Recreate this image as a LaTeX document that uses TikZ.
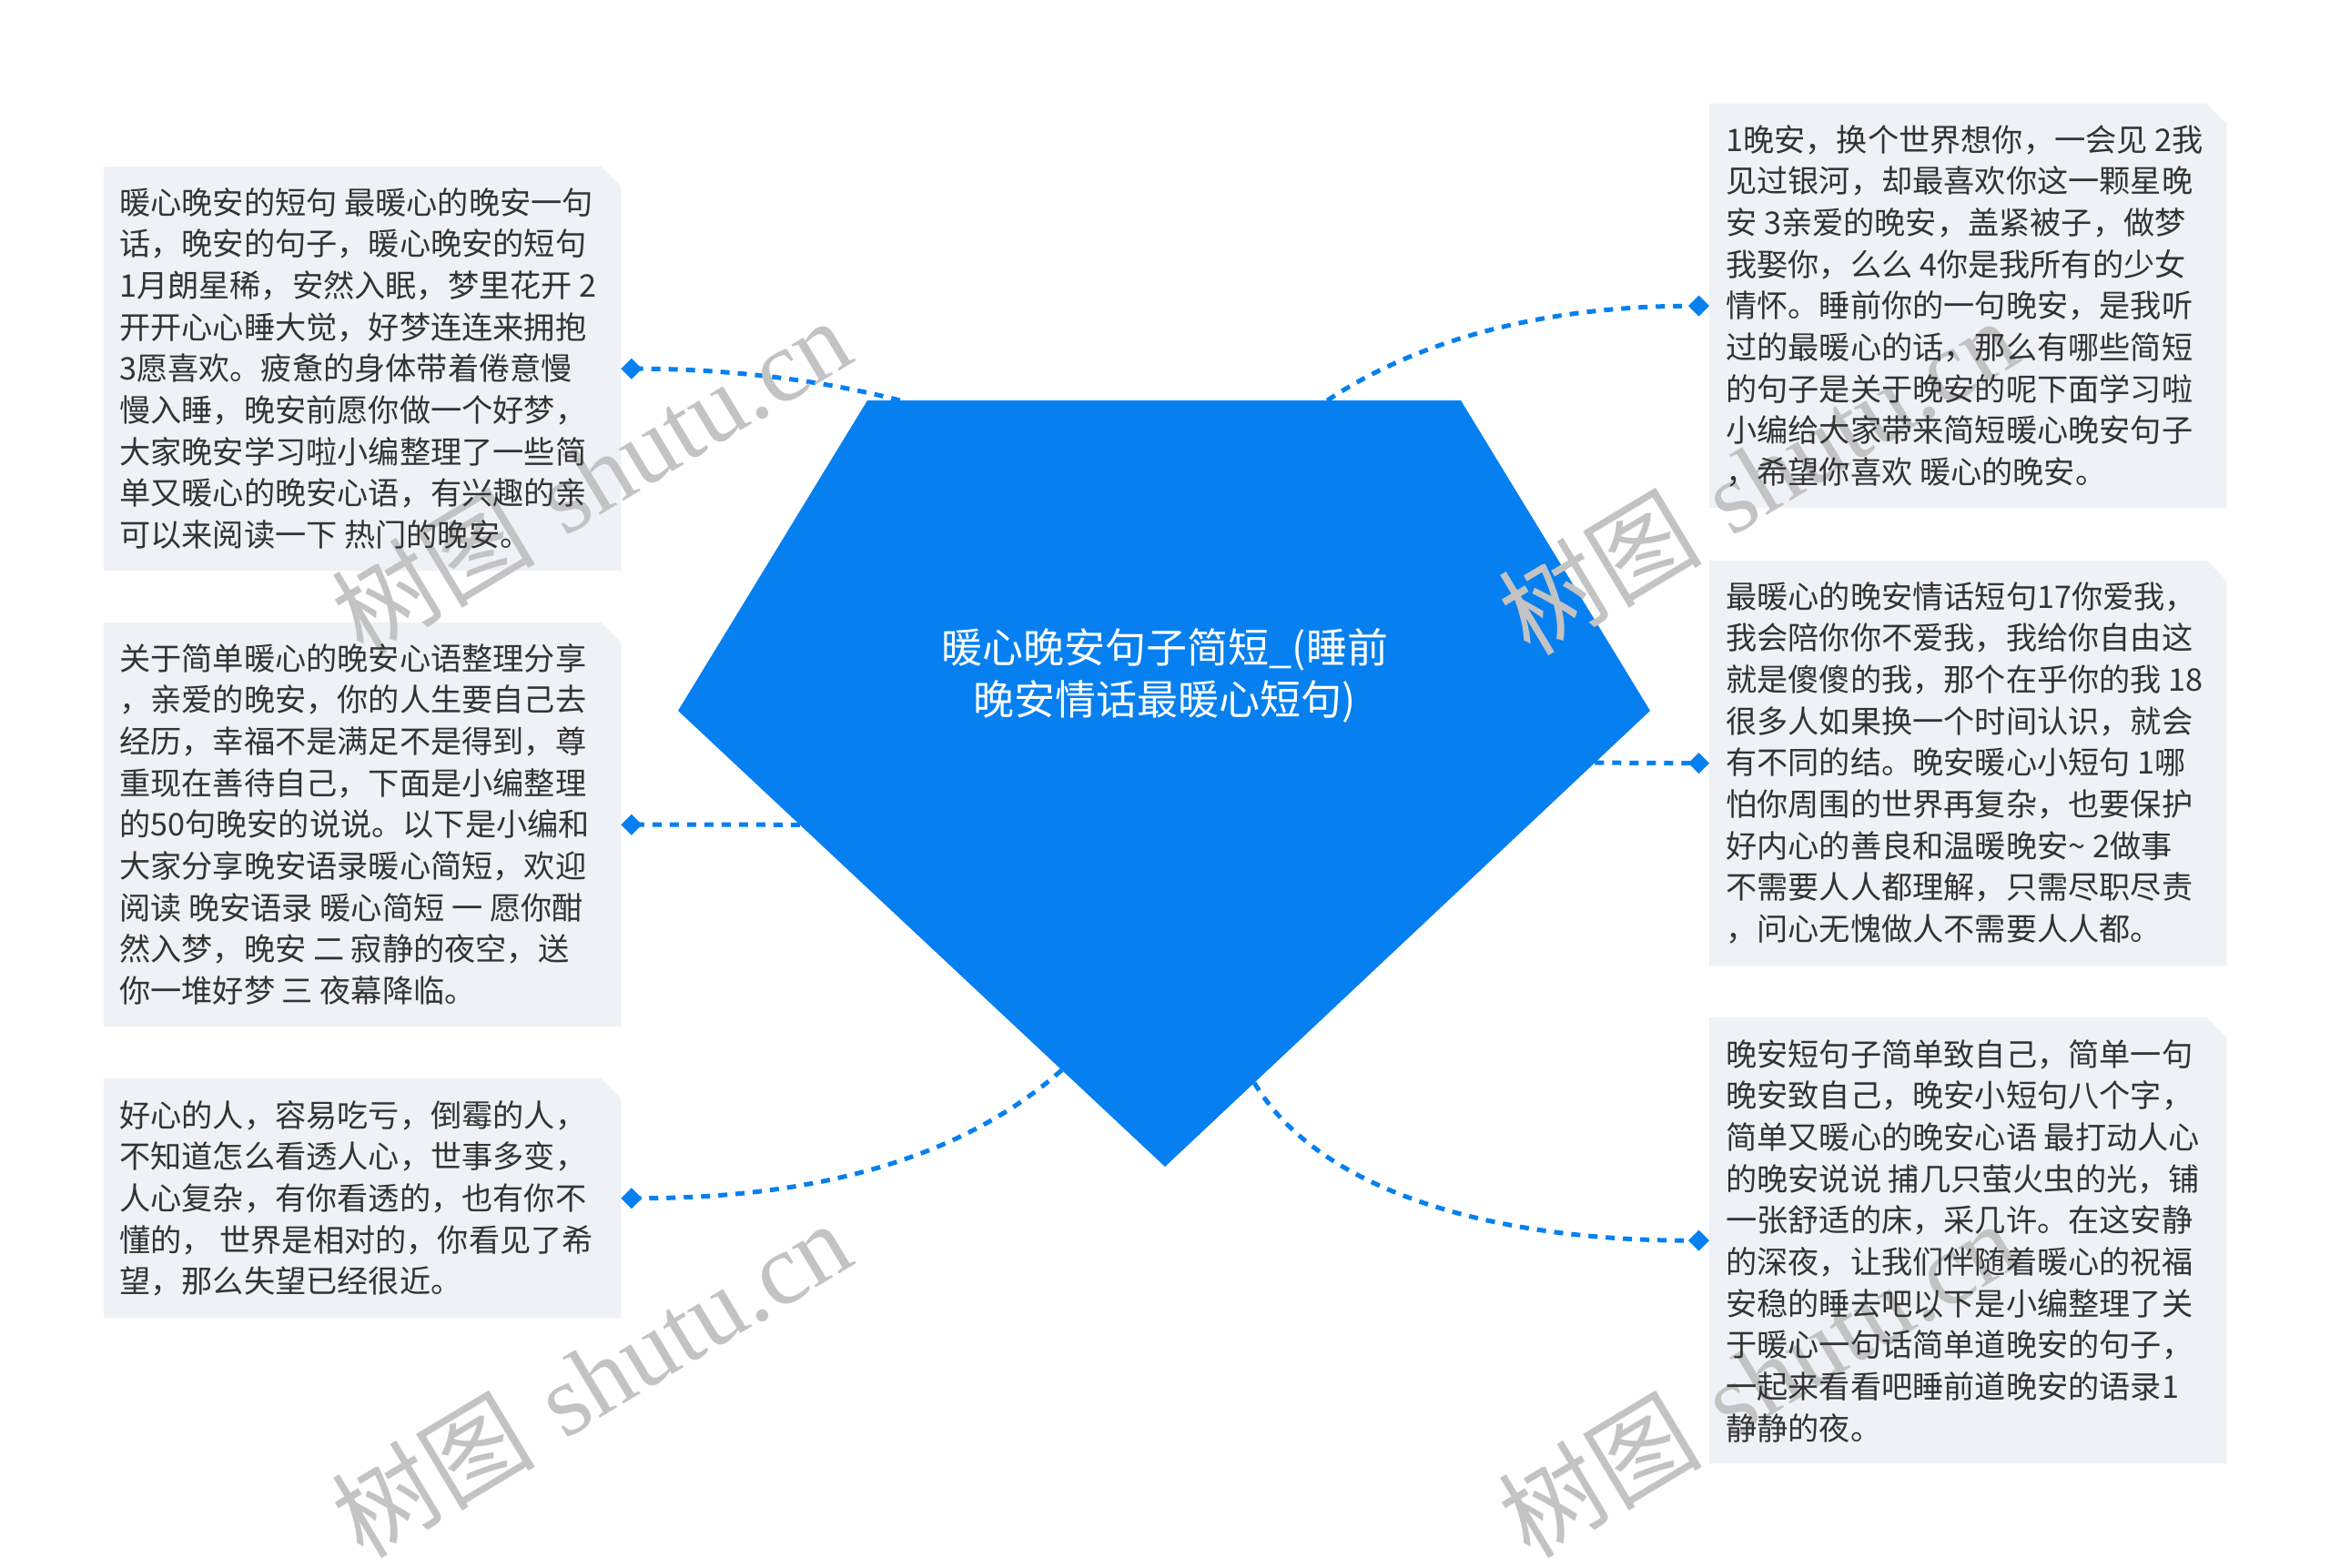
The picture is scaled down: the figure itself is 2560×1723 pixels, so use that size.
\documentclass[tikz,border=0pt]{standalone}
\usepackage{fontspec}
\newfontfamily\cjk{Noto Sans CJK SC}
\newfontfamily\wmlat{Liberation Serif}
\usetikzlibrary{arrows.meta,calc}
\definecolor{mainblue}{RGB}{6,128,240}
\definecolor{boxfill}{RGB}{238,241,245}
\definecolor{txtcol}{RGB}{51,51,51}
\definecolor{wmcol}{RGB}{195,195,195}
\tikzset{
  boxframe/.style={rectangle, draw=none, inner sep=0pt, minimum width=568pt, anchor=north west},
  boxtext/.style={anchor=base west, inner sep=0pt, align=left, text=txtcol, font=\cjk\fontsize{34.2}{45.7}\selectfont},
  linkline/.style={draw=mainblue, line width=5pt, dash pattern=on 10pt off 9pt, -{Diamond[length=23pt,width=23pt]}},
  wmark/.style={text=wmcol, rotate=31, inner sep=0pt, font=\fontsize{112}{112}\selectfont},
}
\begin{document}
\begin{tikzpicture}[x=1pt,y=-1pt]
\fill[white] (0,0) rectangle (2560,1723);
\useasboundingbox (0,0) rectangle (2560,1723);

% pentagon corners
\coordinate (pTL) at (953,440);
\coordinate (pTR) at (1605,440);
\coordinate (pR) at (1813,781);
\coordinate (pB) at (1280,1282);
\coordinate (pL) at (745,781);

% boxes (frames)
\node[boxframe, minimum height=444pt] (b1) at (114,183) {};
\node[boxframe, minimum height=444pt] (b2) at (114,684) {};
\node[boxframe, minimum height=263pt] (b3) at (114,1185) {};
\node[boxframe, minimum height=444pt] (r1) at (1878,114) {};
\node[boxframe, minimum height=445pt] (r2) at (1878,616) {};
\node[boxframe, minimum height=490pt] (r3) at (1878,1118) {};

\foreach \b in {b1,b2,b3,r1,r2,r3}{
  \fill[boxfill] (\b.south west) -- (\b.north west) -- ($(\b.north east)+(-22,0)$)
    -- ($(\b.north east)+(0,22)$) -- (\b.south east) -- cycle;
}

% connector start points on pentagon edges
\coordinate (s1) at ($(pTL)!0.055!(pTR)$);
\coordinate (s2) at ($(pL)!0.25!(pB)$);
\coordinate (s3) at ($(pL)!0.788!(pB)$);
\coordinate (s4) at ($(pTL)!0.775!(pTR)$);
\coordinate (s5) at ($(pR)!0.114!(pB)$);
\coordinate (s6) at ($(pR)!0.816!(pB)$);

% connectors
\draw[linkline] (s1) .. controls +(-108,-28) and +(88,0) .. (b1.east);
\draw[linkline] (s2) -- (b2.east);
\draw[linkline] (s3) .. controls +(-117,104) and +(198,0) .. (b3.east);
\draw[linkline] (s4) .. controls +(102,-68) and +(-178,0) .. (r1.west);
\draw[linkline] (s5) -- (r2.west);
\draw[linkline] (s6) .. controls +(72,120) and +(-238,0) .. (r3.west);

% central pentagon
\fill[mainblue] (pTL) -- (pTR) -- (pR) -- (pB) -- (pL) -- cycle;
\node[align=center, text=white, inner sep=0pt, font=\cjk\fontsize{45}{57}\selectfont] (ctr) at (1280,742)
  {暖心晚安句子简短\_(睡前\\晚安情话最暖心短句)};

% watermarks
\node[wmark] (w1) at (649,523) {{\cjk 树图} {\wmlat shutu.cn}};
\node[wmark] (w2) at (649,1515) {{\cjk 树图} {\wmlat shutu.cn}};
\node[wmark] (w3) at (1931,523) {{\cjk 树图} {\wmlat shutu.cn}};
\node[wmark] (w4) at (1931,1515) {{\cjk 树图} {\wmlat shutu.cn}};

% texts (anchor = baseline of the last line)
\node[boxtext] (t1) at ($(b1.north west)+(17,417.6)$) {暖心晚安的短句 最暖心的晚安一句\\话，晚安的句子，暖心晚安的短句\\1月朗星稀，安然入眠，梦里花开 2\\开开心心睡大觉，好梦连连来拥抱\\3愿喜欢。疲惫的身体带着倦意慢\\慢入睡，晚安前愿你做一个好梦，\\大家晚安学习啦小编整理了一些简\\单又暖心的晚安心语，有兴趣的亲\\可以来阅读一下 热门的晚安。};
\node[boxtext] (t2) at ($(b2.north west)+(17,417.6)$) {关于简单暖心的晚安心语整理分享\\，亲爱的晚安，你的人生要自己去\\经历，幸福不是满足不是得到，尊\\重现在善待自己，下面是小编整理\\的50句晚安的说说。以下是小编和\\大家分享晚安语录暖心简短，欢迎\\阅读 晚安语录 暖心简短 一 愿你酣\\然入梦，晚安 二 寂静的夜空，送\\你一堆好梦 三 夜幕降临。};
\node[boxtext] (t3) at ($(b3.north west)+(17,235.8)$) {好心的人，容易吃亏，倒霉的人，\\不知道怎么看透人心，世事多变，\\人心复杂，有你看透的，也有你不\\懂的， 世界是相对的，你看见了希\\望，那么失望已经很近。};
\node[boxtext] (u1) at ($(r1.north west)+(18,417.6)$) {1晚安，换个世界想你，一会见 2我\\见过银河，却最喜欢你这一颗星晚\\安 3亲爱的晚安，盖紧被子，做梦\\我娶你，么么 4你是我所有的少女\\情怀。睡前你的一句晚安，是我听\\过的最暖心的话，那么有哪些简短\\的句子是关于晚安的呢下面学习啦\\小编给大家带来简短暖心晚安句子\\，希望你喜欢 暖心的晚安。};
\node[boxtext] (u2) at ($(r2.north west)+(18,417.6)$) {最暖心的晚安情话短句17你爱我，\\我会陪你你不爱我，我给你自由这\\就是傻傻的我，那个在乎你的我 18\\很多人如果换一个时间认识，就会\\有不同的结。晚安暖心小短句 1哪\\怕你周围的世界再复杂，也要保护\\好内心的善良和温暖晚安\textasciitilde{} 2做事\\不需要人人都理解，只需尽职尽责\\，问心无愧做人不需要人人都。};
\node[boxtext] (u3) at ($(r3.north west)+(18,464.3)$) {晚安短句子简单致自己，简单一句\\晚安致自己，晚安小短句八个字，\\简单又暖心的晚安心语 最打动人心\\的晚安说说 捕几只萤火虫的光，铺\\一张舒适的床，采几许。在这安静\\的深夜，让我们伴随着暖心的祝福\\安稳的睡去吧以下是小编整理了关\\于暖心一句话简单道晚安的句子，\\一起来看看吧睡前道晚安的语录1\\静静的夜。};
\end{tikzpicture}
\end{document}
